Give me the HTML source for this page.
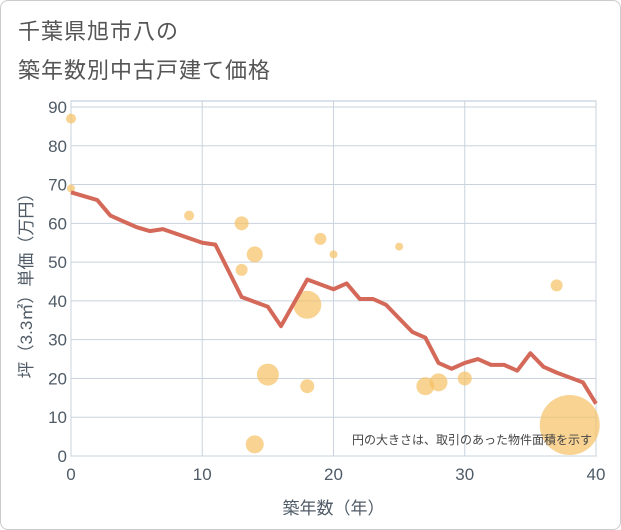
<!DOCTYPE html>
<html><head><meta charset="utf-8"><style>
body{margin:0;background:#fff;}
#wrap{position:relative;width:619px;height:528px;border:1px solid #ccc;border-radius:8px;background:#fff;font-family:"Liberation Sans","Noto Sans CJK JP",sans-serif;overflow:hidden}
.title{position:absolute;left:17px;font-size:22px;color:#555;letter-spacing:1px}
</style></head><body>
<div id="wrap">
<div class="title" style="top:13px">千葉県旭市八の</div>
<div class="title" style="top:52px">築年数別中古戸建て価格</div>
<svg id="chart" width="621" height="530" style="position:absolute;left:-1px;top:-1px"></svg>
</div>
<script>
const xTicks=[0,10,20,30,40];
const yTicks=[0,10,20,30,40,50,60,70,80,90];
const lineYears=[0,2,3,4,5,6,7,10,11,13,15,16,18,20,21,22,23,24,25,26,27,28,29,30,31,32,33,34,35,36,37,39,40];
const linePrices=[68,66,62,60.5,59,58,58.5,55,54.5,41,38.5,33.5,45.5,43,44.5,40.5,40.5,39,35.5,32,30.5,24,22.5,24,25,23.5,23.5,22,26.5,23,21.5,19,13.5];
const bubbleYears=[0,0,9,13,13,14,14,15,18,18,19,20,25,27,28,30,37,38];
const bubblePrices=[87,69,62,60,48,52,3,21,39,18,56,52,54,18,19,20,44,8];
const bubbleSizes=[5,4,5,7,6,8,9,11,14,7,6,4,4,9,9,7,6,30];
const NS='http://www.w3.org/2000/svg';
const svg=document.getElementById('chart');
const L=71,R=596,T=107,B=456;
const xs=v=>L+(v-0)/40*(R-L);
const ys=v=>B-v/90*(B-T);
const TXT='#4f5b66';
function mk(tag,attrs,parent){const e=document.createElementNS(NS,tag);for(const k in attrs)e.setAttribute(k,attrs[k]);(parent||svg).appendChild(e);return e;}
const bg=mk('rect',{x:L,y:T-6,width:R-L,height:B-T+6,fill:'#fff',stroke:'#b9c6d3'});


xTicks.forEach(t=>{
 const g=mk('line',{x1:xs(t),x2:xs(t),y1:T-6,y2:B,stroke:'#c8d3de'});
 
 
 const tx=mk('text',{x:xs(t),y:B+24,'text-anchor':'middle','font-size':17,fill:TXT});
 tx.textContent=t;
 
 
});
yTicks.forEach(t=>{
 const g=mk('line',{x1:L,x2:R,y1:ys(t),y2:ys(t),stroke:'#c8d3de'});
 
 
 const tx=mk('text',{x:L-4,y:ys(t)+6,'text-anchor':'end','font-size':17,fill:TXT});
 tx.textContent=t;
 
 
});
bubbleYears.forEach((yr,i)=>{
 const c=mk('circle',{cx:xs(yr),cy:ys(bubblePrices[i]),r:bubbleSizes[i],fill:'#f5c064',opacity:0.7});
 
 
});
const pts=lineYears.map((y,i)=>xs(y)+','+ys(linePrices[i])).join(' ');
const pl=mk('polyline',{points:pts,fill:'none',stroke:'#d4695a','stroke-width':4,'stroke-linejoin':'round'});


const xt=mk('text',{x:(L+R)/2,y:514,'text-anchor':'middle','font-size':17,fill:TXT});
xt.textContent='築年数（年）';


const yt=mk('text',{x:0,y:0,'text-anchor':'middle','font-size':17,fill:TXT,transform:'translate(32,'+(T+B)/2+') rotate(-90)'});
yt.textContent='坪（3.3㎡）単価（万円）';


const note=mk('text',{x:592,y:444,'text-anchor':'end','font-size':12,fill:'#444'});
note.textContent='円の大きさは、取引のあった物件面積を示す';


</script>
</body></html>
